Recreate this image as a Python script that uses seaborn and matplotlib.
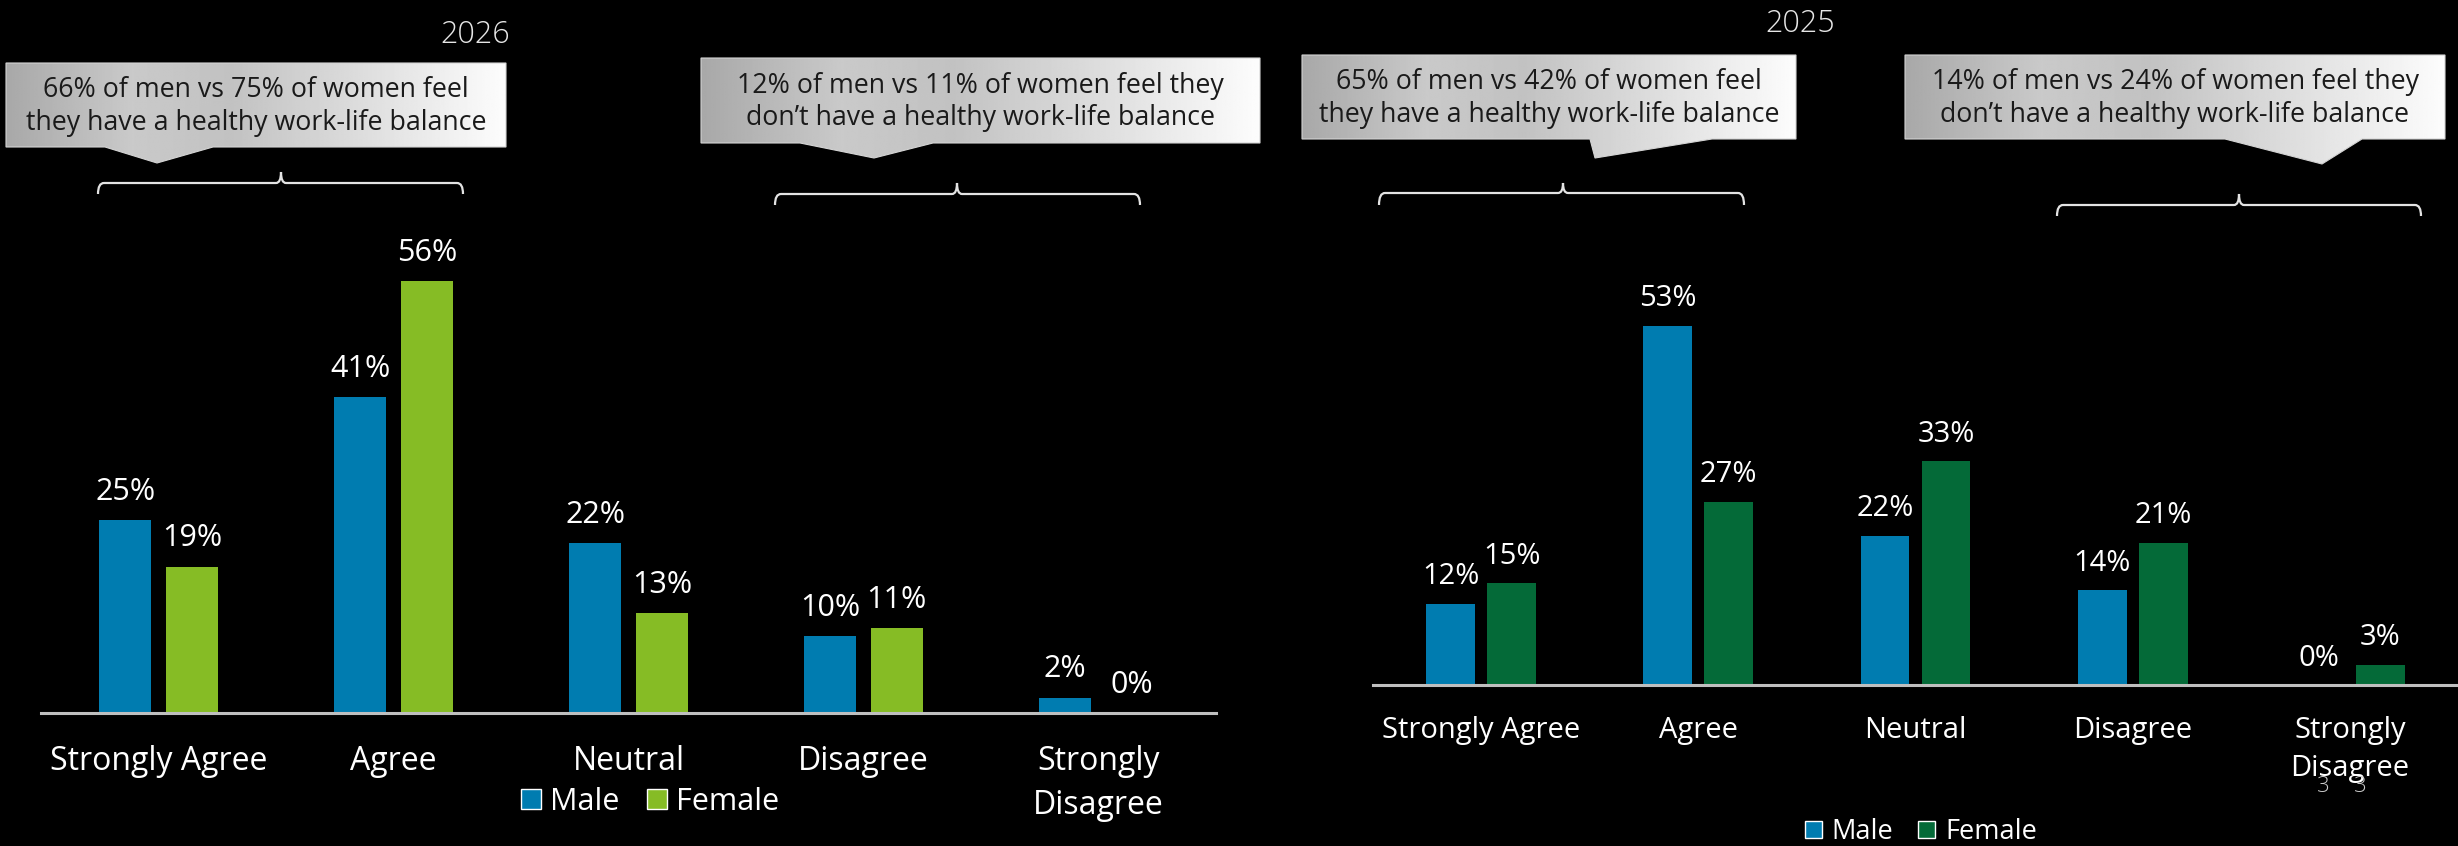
import numpy as np
import pandas as pd
import matplotlib
matplotlib.use("Agg")
import matplotlib.pyplot as plt
from matplotlib.patches import Patch, Polygon, PathPatch
from matplotlib.path import Path
import seaborn as sns

# ---- data -----------------------------------------------------------------
categories = ["Strongly Agree", "Agree", "Neutral", "Disagree", "Strongly Disagree"]
tick_labels = ["Strongly Agree", "Agree", "Neutral", "Disagree", "Strongly\nDisagree"]
genders = ["Male", "Female"]

male_2026 = [25, 41, 22, 10, 2]
female_2026 = [19, 56, 13, 11, 0]
male_2025 = [12, 53, 22, 14, 0]
female_2025 = [15, 27, 33, 21, 3]

callouts_2026 = [
    "66% of men vs 75% of women feel\nthey have a healthy work-life balance",
    "12% of men vs 11% of women feel they\ndon\u2019t have a healthy work-life balance",
]
callouts_2025 = [
    "65% of men vs 42% of women feel\nthey have a healthy work-life balance",
    "14% of men vs 24% of women feel they\ndon\u2019t have a healthy work-life balance",
]

BLUE = "#007cb0"
LIME = "#86bc25"
DARK_GREEN = "#046a38"

# ---- style ----------------------------------------------------------------
sns.set_theme(style="white")
plt.rcParams.update({
    "figure.facecolor": "black",
    "axes.facecolor": "black",
    "savefig.facecolor": "black",
    "text.color": "white",
})
plt.rcParams["font.family"] = ["Open Sans", "DejaVu Sans"]

W, H = 2458, 846
fig = plt.figure(figsize=(W / 100, H / 100), dpi=100)


def px_axes(x0, x1, y_top, y_bottom):
    return fig.add_axes([x0 / W, 1 - y_bottom / H, (x1 - x0) / W, (y_bottom - y_top) / H])


def draw_panel(ax, male, female, female_color, ymax, width, gap,
               value_fs, tick_fs, tick_pad, label_pad):
    df = pd.DataFrame({
        "category": categories * 2,
        "gender": ["Male"] * len(categories) + ["Female"] * len(categories),
        "pct": male + female,
    })
    sns.barplot(data=df, x="category", y="pct", hue="gender",
                order=categories, hue_order=genders,
                palette={"Male": BLUE, "Female": female_color},
                width=width, gap=gap, saturation=1, errorbar=None,
                legend=False, linewidth=0, ax=ax)
    for cont in ax.containers:
        ax.bar_label(cont, fmt="{:.0f}%", padding=label_pad,
                     color="white", fontsize=value_fs)
    ax.set_xlim(-0.5, len(categories) - 0.5)
    ax.set_ylim(0, ymax)
    ax.set_xticks(range(len(categories)))
    ax.set_xticklabels(tick_labels, fontsize=tick_fs, color="white", linespacing=1.45)
    ax.tick_params(axis="x", length=0, pad=tick_pad)
    ax.set_yticks([])
    ax.set_xlabel("")
    ax.set_ylabel("")
    for s in ["left", "right", "top"]:
        ax.spines[s].set_visible(False)
    ax.spines["bottom"].set_color("#bfbfbf")
    ax.spines["bottom"].set_linewidth(2.2)
    ax.set_facecolor("none")


ax_l = px_axes(41, 1216, 140, 713)
draw_panel(ax_l, male_2026, female_2026, LIME, ymax=573 / 7.71,
           width=0.566, gap=0.22, value_fs=22, tick_fs=23, tick_pad=23, label_pad=9.5)

ax_r = px_axes(1372.5, 2458.5, 140, 685)
draw_panel(ax_r, male_2025, female_2025, DARK_GREEN, ymax=545 / 6.78,
           width=0.562, gap=0.2, value_fs=21, tick_fs=21, tick_pad=22, label_pad=9)

# legends
fig.legend([Patch(facecolor=BLUE), Patch(facecolor=LIME)], genders,
           loc="center", bbox_to_anchor=(650 / W, 1 - 802 / H), ncol=2,
           frameon=False, fontsize=22, handlelength=0.65, handleheight=0.65,
           handletextpad=0.3, columnspacing=0.9, labelcolor="white")
fig.legend([Patch(facecolor=BLUE), Patch(facecolor=DARK_GREEN)], genders,
           loc="center", bbox_to_anchor=(1921 / W, 1 - 832 / H), ncol=2,
           frameon=False, fontsize=19.5, handlelength=0.63, handleheight=0.63,
           handletextpad=0.37, columnspacing=0.92, labelcolor="white")

# ---- annotation layer in pixel coordinates --------------------------------
ov = fig.add_axes([0, 0, 1, 1])
ov.set_facecolor("none")
ov.axis("off")

grad_pos = [0.0, 0.25, 0.45, 0.72, 1.0]
grad_lvl = [0.66, 0.79, 0.76, 0.87, 0.99]


def callout(x0, x1, y0, y1, base_l, base_r, apex, text, fs=19.3):
    verts = [(x0, y0), (x1, y0), (x1, y1), (base_r, y1), apex,
             (base_l, y1), (x0, y1)]
    poly = Polygon(verts, closed=True, facecolor="none",
                   edgecolor="#d4d4d4", lw=0.8, zorder=3)
    ov.add_patch(poly)
    xs = np.linspace(0, 1, 400)
    row = np.interp(xs, grad_pos, grad_lvl)
    img = np.tile(row, (2, 1))
    im = ov.imshow(img, cmap="gray", vmin=0, vmax=1, aspect="auto",
                   interpolation="bilinear",
                   extent=(x0, x1, max(y1, apex[1]), y0), zorder=2)
    im.set_clip_path(poly)
    ov.text((x0 + x1) / 2, (y0 + y1) / 2 + 1.5, text, ha="center", va="center",
            fontsize=fs, color="#1a1a1a", linespacing=1.2, zorder=4)


def brace(x0, x1, xm, y_line, y_end, y_top):
    r = 6
    verts = [(x0, y_end), (x0, y_line), (x0 + r, y_line),
             (xm - 5, y_line), (xm, y_line), (xm, y_top),
             (xm, y_line), (xm + 5, y_line),
             (x1 - r, y_line), (x1, y_line), (x1, y_end)]
    codes = [Path.MOVETO, Path.CURVE3, Path.CURVE3,
             Path.LINETO, Path.CURVE3, Path.CURVE3,
             Path.CURVE3, Path.CURVE3,
             Path.LINETO, Path.CURVE3, Path.CURVE3]
    ov.add_patch(PathPatch(Path(verts, codes), facecolor="none",
                           edgecolor="#e3e3e3", lw=1.6, zorder=3))


callout(6, 506, 63, 147, 105, 213, (157, 163), callouts_2026[0])
callout(701, 1260, 58, 143, 800, 933, (874, 158), callouts_2026[1])
callout(1302, 1796, 55, 139, 1590, 1712, (1595, 158), callouts_2025[0])
callout(1905, 2445, 55, 139, 2225, 2362, (2322, 164), callouts_2025[1])

brace(98, 463, 281, 183, 194, 172)
brace(775, 1140, 957, 194, 205, 183)
brace(1379, 1744, 1563, 193, 205, 183)
brace(2057, 2421, 2239, 205, 216, 194)

ov.text(475, 43, "2026", ha="center", va="baseline", fontsize=22,
        fontweight="light", color="#e6e6e6")
ov.text(1800, 32, "2025", ha="center", va="baseline", fontsize=22,
        fontweight="light", color="#e6e6e6")
ov.text(2323, 792, "3", ha="center", va="baseline", fontsize=16,
        fontweight="light", color="#cccccc")
ov.text(2360, 792, "3", ha="center", va="baseline", fontsize=16,
        fontweight="light", color="#cccccc")

ov.set_xlim(0, W)
ov.set_ylim(H, 0)

fig.savefig("out.png", dpi=100, facecolor="black")
